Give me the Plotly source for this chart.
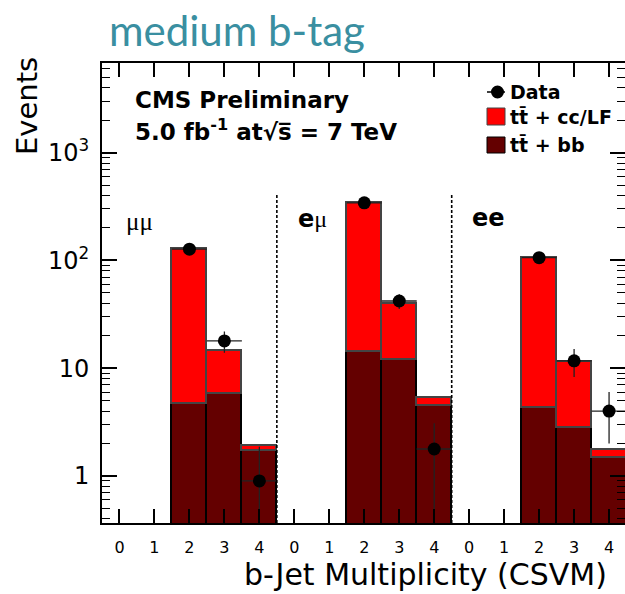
import plotly.graph_objects as go

# ---------------- data ----------------
channels = ["μμ", "eμ", "ee"]
bjet_bins = ["0", "1", "2", "3", "4"]

ttbb_mumu = [0, 0, 4.65, 5.73, 1.71]
ttcc_mumu = [0, 0, 122.2, 8.67, 0.20]
data_mumu = [None, None, 127, 17.9, 0.90]
errup_mumu = [0, 0, 11, 4.0, 0.97]
errdn_mumu = [0, 0, 11, 4.0, 0.85]

ttbb_emu = [0, 0, 14.2, 11.9, 4.49]
ttcc_emu = [0, 0, 328.8, 27.3, 0.83]
data_emu = [None, None, 342, 42, 1.78]
errup_emu = [0, 0, 18.5, 6.5, 1.3]
errdn_emu = [0, 0, 18.5, 6.5, 1.7]

ttbb_ee = [0, 0, 4.30, 2.81, 1.48]
ttcc_ee = [0, 0, 100.2, 8.69, 0.26]
data_ee = [None, None, 106, 11.7, 4.0]
errup_ee = [0, 0, 10.3, 3.4, 2.0]
errdn_ee = [0, 0, 10.3, 3.4, 2.0]

# ---------------- build ----------------
nb = len(bjet_bins)
ttbb_all = ttbb_mumu + ttbb_emu + ttbb_ee
ttcc_all = ttcc_mumu + ttcc_emu + ttcc_ee
data_all = data_mumu + data_emu + data_ee
errup_all = errup_mumu + errup_emu + errup_ee
errdn_all = errdn_mumu + errdn_emu + errdn_ee
xpos = list(range(len(ttbb_all)))

bx = [x for x, v in zip(xpos, ttbb_all) if v > 0]
bv = [v for v in ttbb_all if v > 0]
cx = [x for x, v in zip(xpos, ttcc_all) if v > 0]
cv = [v for v in ttcc_all if v > 0]
dx = [x for x, v in zip(xpos, data_all) if v is not None]
dv = [v for v in data_all if v is not None]
du = [e for e, v in zip(errup_all, data_all) if v is not None]
dd = [e for e, v in zip(errdn_all, data_all) if v is not None]

FONT = "DejaVu Sans"

# pixel -> paper helpers (plot area: x 102..625, y 63..523)
L, R, T, B = 102, 625, 63, 523
def px(x):
    return (x - L) / (R - L)
def py(y):
    return (B - y) / (B - T)

fig = go.Figure()
fig.add_trace(go.Bar(x=bx, y=bv, name="tt̄ + bb", width=1.0,
                     marker=dict(color="#640000", line=dict(color="#000000", width=1.6)),
                     showlegend=False))
fig.add_trace(go.Bar(x=cx, y=cv, name="tt̄ + cc/LF", width=1.0,
                     marker=dict(color="#ff0000", line=dict(color="#444444", width=1.6)),
                     showlegend=False))
fig.add_trace(go.Scatter(x=dx, y=dv, mode="markers", name="Data",
                         marker=dict(color="black", size=13),
                         error_y=dict(type="data", symmetric=False, array=du, arrayminus=dd,
                                      color="#222222", thickness=1.3, width=0),
                         error_x=dict(type="constant", value=0.5, color="#222222",
                                      thickness=1.3, width=0),
                         showlegend=False))
# dummy trace to activate right-hand mirror axis
fig.add_trace(go.Scatter(x=[0], y=[1], yaxis="y2", mode="markers",
                         marker=dict(opacity=0), showlegend=False, hoverinfo="skip"))

ylog_range = [-0.436, 3.831]
minor_vals = [m * 10 ** e for e in range(-1, 4) for m in range(2, 10)]
major_vals = [1, 10, 100, 1000]
major_text = ["1", "10", "10<sup>2</sup>", "10<sup>3</sup>"]

fig.update_layout(
    width=625, height=594,
    margin=dict(l=L, r=0, t=T, b=594 - B),
    plot_bgcolor="white", paper_bgcolor="white",
    barmode="stack", bargap=0,
    font=dict(family=FONT, color="black"),
    xaxis=dict(range=[-0.5, -0.5 + (R - L) / 34.97], tickmode="array",
               tickvals=xpos, ticktext=bjet_bins * len(channels),
               ticks="inside", ticklen=14, tickwidth=1.5, tickcolor="black",
               showline=True, linewidth=2, linecolor="black", mirror="ticks",
               showgrid=False, zeroline=False, tickfont=dict(size=16, family=FONT),
               ticklabelstandoff=9),
    yaxis=dict(type="log", range=ylog_range, tickmode="array",
               tickvals=major_vals, ticktext=major_text,
               ticks="inside", ticklen=15, tickwidth=1.5, tickcolor="black",
               minor=dict(tickmode="array", tickvals=minor_vals, ticks="inside",
                          ticklen=8, tickwidth=1.3, tickcolor="black", showgrid=False),
               showline=True, linewidth=2, linecolor="black", mirror=False,
               showgrid=False, zeroline=False, tickfont=dict(size=24, family=FONT),
               ticklabelstandoff=6),
    yaxis2=dict(type="log", range=ylog_range, overlaying="y", side="right", anchor="x",
                tickmode="array", tickvals=major_vals, showticklabels=False,
                ticks="inside", ticklen=15, tickwidth=1.5, tickcolor="black",
                minor=dict(tickmode="array", tickvals=minor_vals, ticks="inside",
                           ticklen=8, tickwidth=1.3, tickcolor="black", showgrid=False),
                showline=False, showgrid=False, zeroline=False),
)

# channel separators
for xs in [nb - 0.5, 2 * nb - 0.5]:
    fig.add_shape(type="line", xref="x", yref="paper", x0=xs, x1=xs, y0=0, y1=py(195),
                  line=dict(color="black", width=1.6, dash="3px,2px"), layer="above")

ann = []
# title
ann.append(dict(text="medium b-tag", x=px(107), y=py(30), xref="paper", yref="paper",
                xanchor="left", yanchor="middle", showarrow=False,
                font=dict(family="Lato", size=42, color="#3a8fa1")))
# axis titles
ann.append(dict(text="b-Jet Multiplicity (CSVM)", x=px(609), y=py(574), xref="paper", yref="paper",
                xanchor="right", yanchor="middle", showarrow=False,
                font=dict(family=FONT, size=30)))
ann.append(dict(text="Events", x=px(27), y=py(106), xref="paper", yref="paper",
                xanchor="center", yanchor="middle", textangle=-90, showarrow=False,
                font=dict(family=FONT, size=29)))
# CMS label
ann.append(dict(text="<b>CMS Preliminary</b>", x=px(133), y=py(100), xref="paper", yref="paper",
                xanchor="left", yanchor="middle", showarrow=False, font=dict(family=FONT, size=23)))
ann.append(dict(text="<b>5.0 fb<sup>-1</sup> at√s̅ = 7 TeV</b>", x=px(133), y=py(130),
                xref="paper", yref="paper", xanchor="left", yanchor="middle", showarrow=False,
                font=dict(family=FONT, size=23)))
# channel labels
ann.append(dict(text=channels[0], x=px(139), y=py(221), xref="paper", yref="paper",
                xanchor="center", yanchor="middle", showarrow=False,
                font=dict(family="Liberation Serif", size=25)))
ann.append(dict(text="<b>e</b><span style='font-family:Liberation Serif'>μ</span>",
                x=px(312), y=py(219), xref="paper", yref="paper",
                xanchor="center", yanchor="middle", showarrow=False, font=dict(family=FONT, size=24)))
ann.append(dict(text="<b>" + channels[2] + "</b>", x=px(488), y=py(218), xref="paper", yref="paper",
                xanchor="center", yanchor="middle", showarrow=False, font=dict(family=FONT, size=24)))

# legend (drawn manually)
leg_rows = [("Data", 92), ("tt̄ + cc/LF", 117), ("tt̄ + bb", 145)]
for txt, yc in leg_rows:
    ann.append(dict(text="<b>" + txt + "</b>", x=px(508), y=py(yc), xref="paper", yref="paper",
                    xanchor="left", yanchor="middle", showarrow=False, font=dict(family=FONT, size=19)))
fig.update_layout(annotations=ann)

fig.add_shape(type="line", xref="paper", yref="paper", x0=px(487), x1=px(505), y0=py(92), y1=py(92),
              line=dict(color="black", width=1.5))
fig.add_shape(type="circle", xref="paper", yref="paper", x0=px(491), x1=px(504), y0=py(98.5), y1=py(85.5),
              fillcolor="black", line=dict(color="black", width=0))
fig.add_shape(type="rect", xref="paper", yref="paper", x0=px(487), x1=px(505), y0=py(125), y1=py(108),
              fillcolor="#ff0000", line=dict(color="#444444", width=1))
fig.add_shape(type="rect", xref="paper", yref="paper", x0=px(487), x1=px(505), y0=py(153), y1=py(137),
              fillcolor="#640000", line=dict(color="#000000", width=1))

fig.write_html("out.html", config=dict(displayModeBar=False))
